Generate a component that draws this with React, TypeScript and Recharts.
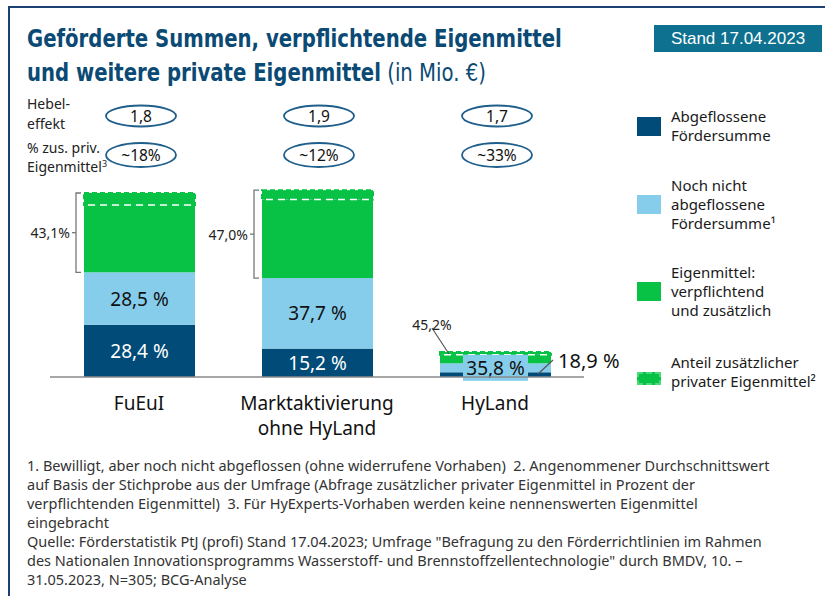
import React from 'react';
import { BarChart, Bar, XAxis, YAxis } from 'recharts';

// Kategorien (Zeilenumbruch mit \n)
const categories = ['FuEuI', 'Marktaktivierung\nohne HyLand', 'HyLand'];
// Gesamtsumme je Bereich in Mio. € (aus Balkenhöhen geschätzt)
const totalMio = [920, 935, 125];
// Anteile in %
const shareAbgeflossen = [28.4, 15.2, 18.9];
const shareNochNicht = [28.5, 37.7, 35.8];
const shareEigenmittel = [43.1, 47.0, 45.2];
// zusätzliche private Eigenmittel in % der verpflichtenden Eigenmittel
const zusPrivShare = [18, 12, 33];
const hebeleffekt = ['1,8', '1,9', '1,7'];

const DARK = '#004b78';
const LIGHT = '#86cdec';
const GREEN = '#07c245';
const FONT = "'Noto Sans', sans-serif";

const data = categories.map((name, i) => {
    const eigen = (totalMio[i] * shareEigenmittel[i]) / 100;
    const verpflichtend = eigen / (1 + zusPrivShare[i] / 100);
    return {
        name,
        abgeflossen: (totalMio[i] * shareAbgeflossen[i]) / 100,
        nochNicht: (totalMio[i] * shareNochNicht[i]) / 100,
        verpflichtend,
        zusaetzlich: eigen - verpflichtend,
        pAbg: shareAbgeflossen[i],
        pNoch: shareNochNicht[i],
        pEigen: shareEigenmittel[i],
        zus: zusPrivShare[i],
        hebel: hebeleffekt[i],
    };
});

const fmt = (v: number) => v.toFixed(1).replace('.', ',');

const plainShape = (fill: string) => (props: any) => {
    const { x, y, width, height } = props;
    if (!height) return null;
    return <rect x={x} y={y} width={width} height={height} fill={fill} />;
};

// top segment: additional private funds + all annotations of the column
const TopShape = (props: any) => {
    const { x, y, width, height, payload } = props;
    if (!payload || !height) return null;
    const k = height / payload.zusaetzlich;
    const dashY = y + height;
    const greenBottom = dashY + k * payload.verpflichtend;
    const lightBottom = greenBottom + k * payload.nochNicht;
    const base = lightBottom + k * payload.abgeflossen;
    const cx = x + width / 2;
    const big = greenBottom - y > 30;

    return (
        <g fontFamily={FONT}>
            <rect x={x} y={y} width={width} height={height} fill={GREEN} />
            <rect x={x} y={y} width={width} height={height} fill="none" stroke={GREEN} strokeWidth={2} strokeDasharray="5 3" />
            <line x1={x + 4} x2={x + width - 2} y1={dashY} y2={dashY} stroke="#fff" strokeWidth={1.5} strokeDasharray="7 5" />

            {big ? (
                <g>
                    <path
                        d={`M${x - 3},${y} H${x - 8} V${greenBottom} H${x - 3}`}
                        stroke="#777"
                        strokeWidth={1.3}
                        fill="none"
                    />
                    <line x1={x - 8} x2={x - 12} y1={(y + greenBottom) / 2} y2={(y + greenBottom) / 2} stroke="#777" strokeWidth={1.3} />
                    <text x={x - 14} y={(y + greenBottom) / 2} textAnchor="end" dominantBaseline="central" fontSize={14} fill="#222">
                        {fmt(payload.pEigen)}%
                    </text>
                    <text x={cx} y={(greenBottom + lightBottom) / 2} textAnchor="middle" dominantBaseline="central" fontSize={19} fill="#111">
                        {fmt(payload.pNoch)} %
                    </text>
                    <text x={cx} y={(lightBottom + base) / 2} textAnchor="middle" dominantBaseline="central" fontSize={19} fill="#fff">
                        {fmt(payload.pAbg)} %
                    </text>
                </g>
            ) : (
                <g>
                    <line x1={x - 8} y1={y - 24} x2={x + 9} y2={y + 2} stroke="#555" strokeWidth={1.2} />
                    <text x={x - 8} y={y - 28} textAnchor="middle" dominantBaseline="central" fontSize={14} fill="#222">
                        {fmt(payload.pEigen)}%
                    </text>
                    <line x1={x + width - 13} y1={base - 3} x2={x + width + 2} y2={base - 17} stroke="#555" strokeWidth={1.2} />
                    <text x={x + width + 7} y={base - 17} dominantBaseline="central" fontSize={20} fill="#111">
                        {fmt(payload.pAbg)} %
                    </text>
                    <rect x={cx - 32.5} y={(greenBottom + lightBottom) / 2 - 13} width={65} height={26} fill={LIGHT} />
                    <text x={cx} y={(greenBottom + lightBottom) / 2} textAnchor="middle" dominantBaseline="central" fontSize={19} fill="#111">
                        {fmt(payload.pNoch)} %
                    </text>
                </g>
            )}
        </g>
    );
};

const CategoryTick = (props: any) => {
    const { x, y, payload } = props;
    const i = categories.indexOf(payload.value);
    const d = data[i];
    const lines = String(payload.value).split('\n');
    return (
        <g fontFamily={FONT}>
            {lines.map((l, j) => (
                <text key={j} x={x} y={y + 26 + j * 25} textAnchor="middle" dominantBaseline="central" fontSize={19} fill="#111">
                    {l}
                </text>
            ))}
            <ellipse cx={x + 2} cy={y - 261} rx={35} ry={10.5} fill="none" stroke="#1f5f8b" strokeWidth={1.8} />
            <text x={x + 2} y={y - 261} textAnchor="middle" dominantBaseline="central" fontSize={15.5} fill="#111">
                {d.hebel}
            </text>
            <ellipse cx={x + 2} cy={y - 222} rx={35} ry={12} fill="none" stroke="#1f5f8b" strokeWidth={1.8} />
            <text x={x + 2} y={y - 222} textAnchor="middle" dominantBaseline="central" fontSize={15.5} fill="#111">
                ~{d.zus}%
            </text>
        </g>
    );
};

const legendItems = [
    { color: DARK, lines: ['Abgeflossene', 'Fördersumme'], top: 107 },
    { color: LIGHT, lines: ['Noch nicht', 'abgeflossene', 'Fördersumme¹'], top: 176 },
    { color: GREEN, lines: ['Eigenmittel:', 'verpflichtend', 'und zusätzlich'], top: 263 },
    { color: GREEN, lines: ['Anteil zusätzlicher', 'privater Eigenmittel²'], top: 353, dashed: true },
];

const footnotes = [
    '1. Bewilligt, aber noch nicht abgeflossen (ohne widerrufene Vorhaben)  2. Angenommener Durchschnittswert',
    'auf Basis der Stichprobe aus der Umfrage (Abfrage zusätzlicher privater Eigenmittel in Prozent der',
    'verpflichtenden Eigenmittel)  3. Für HyExperts-Vorhaben werden keine nennenswerten Eigenmittel',
    'eingebracht',
    'Quelle: Förderstatistik PtJ (profi) Stand 17.04.2023; Umfrage "Befragung zu den Förderrichtlinien im Rahmen',
    'des Nationalen Innovationsprogramms Wasserstoff- und Brennstoffzellentechnologie" durch BMDV, 10. –',
    '31.05.2023, N=305; BCG-Analyse',
];

const abs = (left: number, top: number, extra: React.CSSProperties = {}): React.CSSProperties => ({
    position: 'absolute',
    left,
    top,
    ...extra,
});

export default function App() {
    return (
        <div style={{ position: 'absolute', left: 0, top: 0, width: 829, height: 596, background: '#fff', overflow: 'hidden', fontFamily: FONT }}>
            <BarChart width={829} height={596} data={data} margin={{ top: 177, right: 245, bottom: 159, left: 50 }} style={{ position: 'absolute', left: 0, top: 0 }}>
                <YAxis hide domain={[0, 1000]} />
                <XAxis
                    dataKey="name"
                    height={60}
                    tickLine={false}
                    tickSize={0}
                    tickMargin={0}
                    axisLine={{ stroke: '#8a8a8a', strokeWidth: 1.5 }}
                    tick={<CategoryTick />}
                    interval={0}
                />
                <Bar dataKey="abgeflossen" stackId="s" barSize={111} shape={plainShape(DARK)} isAnimationActive={false} />
                <Bar dataKey="nochNicht" stackId="s" barSize={111} shape={plainShape(LIGHT)} isAnimationActive={false} />
                <Bar dataKey="verpflichtend" stackId="s" barSize={111} shape={plainShape(GREEN)} isAnimationActive={false} />
                <Bar dataKey="zusaetzlich" stackId="s" barSize={111} shape={(p: any) => <TopShape {...p} />} isAnimationActive={false} />
            </BarChart>

            {/* frame */}
            <div style={abs(8, 6, { width: 2, height: 600, background: '#1c3f74' })} />
            <div style={abs(8, 6, { width: 817, height: 2, background: '#1c3f74' })} />

            {/* title */}
            <div
                style={abs(27, 22, {
                    fontFamily: "'DejaVu Sans Condensed', sans-serif",
                    fontSize: 25,
                    lineHeight: '34px',
                    color: '#0a4a74',
                    whiteSpace: 'nowrap',
                    transform: 'scaleX(0.875)',
                    transformOrigin: 'left top',
                })}
            >
                <div style={{ fontWeight: 700 }}>Geförderte Summen, verpflichtende Eigenmittel</div>
                <div>
                    <span style={{ fontWeight: 700 }}>und weitere private Eigenmittel</span> (in Mio. €)
                </div>
            </div>
            <div
                style={abs(654, 25, {
                    width: 168,
                    height: 27,
                    background: '#0e7190',
                    color: '#fff',
                    fontFamily: "'Liberation Sans', Arial, sans-serif",
                    fontSize: 17,
                    lineHeight: '27px',
                    textAlign: 'center',
                })}
            >
                Stand 17.04.2023
            </div>

            {/* row labels */}
            <div style={abs(27, 94, { fontSize: 14, lineHeight: '20px', color: '#222' })}>
                <div>Hebel-</div>
                <div>effekt</div>
            </div>
            <div style={abs(27, 138, { fontSize: 14, lineHeight: '19px', color: '#222' })}>
                <div>% zus. priv.</div>
                <div>
                    Eigenmittel<span style={{ fontSize: 9, position: 'relative', top: -5 }}>3</span>
                </div>
            </div>

            {/* legend */}
            {legendItems.map((it, i) => {
                const boxH = it.dashed ? 13 : 19;
                const textH = it.lines.length * 19;
                const boxTop = it.top + textH / 2 - boxH / 2 + (it.dashed ? 6 : 0);
                return (
                    <React.Fragment key={i}>
                        <div
                            style={abs(637, boxTop, {
                                width: 24,
                                height: boxH,
                                background: it.color,
                                boxSizing: 'border-box',
                                border: it.dashed ? '2px dashed #4fd87a' : 'none',
                            })}
                        />
                        <div style={abs(671, it.top, { fontSize: 15, lineHeight: '19px', color: '#1a1a1a', whiteSpace: 'nowrap' })}>
                            {it.lines.map((l, j) => (
                                <div key={j}>{l}</div>
                            ))}
                        </div>
                    </React.Fragment>
                );
            })}

            {/* footnotes */}
            <div style={abs(27, 456, { fontSize: 14.5, lineHeight: '19px', color: '#333', whiteSpace: 'pre' })}>
                {footnotes.map((l, i) => (
                    <div key={i}>{l}</div>
                ))}
            </div>
        </div>
    );
}
